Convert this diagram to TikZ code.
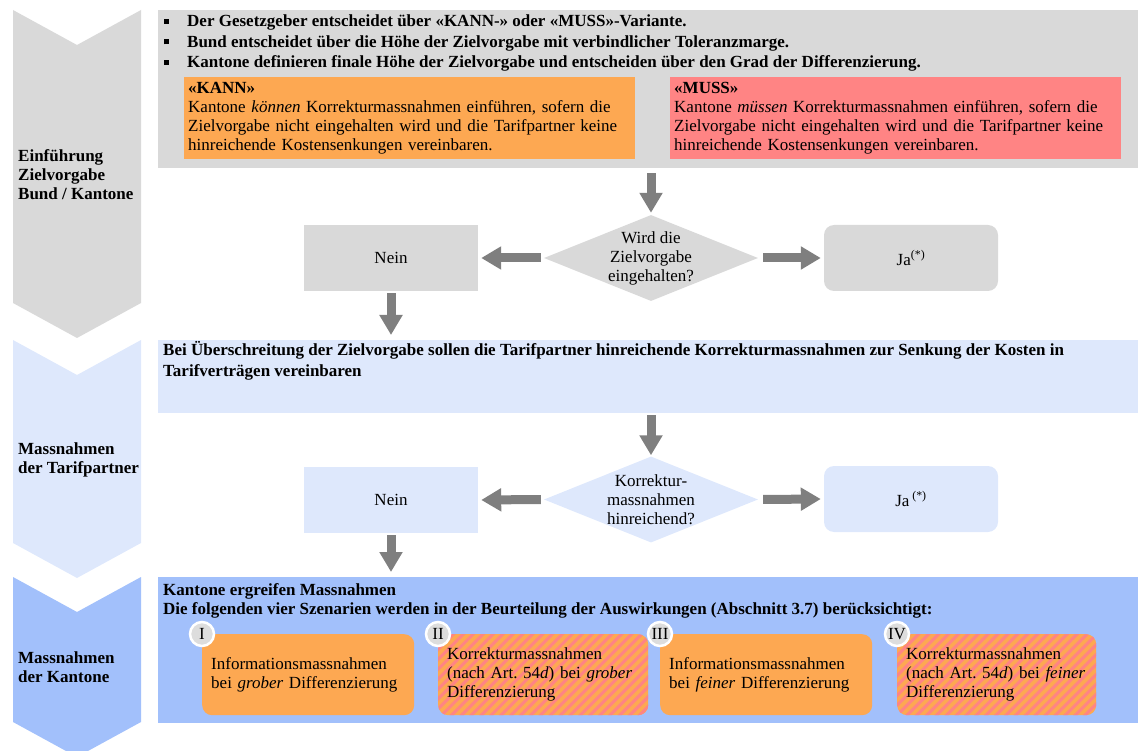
\documentclass[tikz,border=0pt]{standalone}
\usepackage{fontspec}
\setmainfont{Liberation Serif}
\usetikzlibrary{arrows.meta,shapes.geometric,patterns.meta}
\definecolor{grau}{HTML}{D9D9D9}
\definecolor{hellblau}{HTML}{DEE8FC}
\definecolor{blau}{HTML}{A2C0FB}
\definecolor{kannfarbe}{HTML}{FDA852}
\definecolor{mussfarbe}{HTML}{FF8484}
\definecolor{pfeilgrau}{HTML}{7F7F7F}
\definecolor{kreisgrau}{HTML}{DDDDDD}
\newcommand{\grundschrift}{\fontsize{17}{19}\selectfont}

\begin{document}
\begin{tikzpicture}[x=1pt, y=-1pt, font=\grundschrift,
    fett/.style={font=\grundschrift\bfseries, align=left, inner sep=0pt},
    flaeche/.style={anchor=north west, minimum width=980pt, inner sep=0pt},
    variante/.style={anchor=north west, minimum width=451pt, minimum height=82pt, text width=443pt, inner xsep=4pt, inner ysep=0pt, align=left},
    frage/.style={diamond, minimum width=214pt, minimum height=86pt, inner sep=0pt},
    antwort/.style={minimum width=174pt, minimum height=66pt, inner sep=0pt},
    pfeil/.style={draw=pfeilgrau, line width=9pt, -{Triangle[length=20pt 0, width=22pt 0]}},
    szenario/.style={anchor=north west, fill=kannfarbe, rounded corners=10pt, minimum height=81pt, inner xsep=9pt, inner ysep=0pt, align=left},
    streifen/.style={postaction={pattern={Lines[angle=45, distance=7pt, line width=3pt]}, pattern color=mussfarbe}},
    nummer/.style={circle, fill=kreisgrau, draw=white, line width=2.5pt, minimum size=24pt, inner sep=0pt}]
  \useasboundingbox (0,0) rectangle (1138,751);
  \fill[grau] (13,10) -- (77,45) -- (141,10) -- (141,303) -- (77,338) -- (13,303) -- cycle;
  \fill[hellblau] (13,340) -- (77,375) -- (141,340) -- (141,543) -- (77,578) -- (13,543) -- cycle;
  \fill[blau] (13,577) -- (77,612) -- (141,577) -- (141,722) -- (77,757) -- (13,722) -- cycle;
  \node[fett, anchor=west] (phase1) at (18,175) {Einführung\\Zielvorgabe\\Bund / Kantone};
  \node[fett, anchor=west] (phase2) at (18,460) {Massnahmen\\der Tarifpartner};
  \node[fett, anchor=west] (phase3) at (18,667) {Massnahmen\\der Kantone};

  \node[flaeche, fill=grau, minimum height=158pt] (ziel) at (158,10) {};
  \node[fett, anchor=north west, font=\fontsize{17}{20.5}\selectfont\bfseries] (punkte) at (164,15)
    {\rule[3pt]{5pt}{5pt}\hspace{18pt}Der Gesetzgeber entscheidet über «KANN-» oder «MUSS»-Variante.\\
     \rule[3pt]{5pt}{5pt}\hspace{18pt}Bund entscheidet über die Höhe der Zielvorgabe mit verbindlicher Toleranzmarge.\\
     \rule[3pt]{5pt}{5pt}\hspace{18pt}Kantone definieren finale Höhe der Zielvorgabe und entscheiden über den Grad der Differenzierung.};
  \node[variante, fill=kannfarbe] (kann) at (184,77)
    {\textbf{«KANN»}\\Kantone \textit{können} Korrekturmassnahmen einführen, sofern die\\Zielvorgabe nicht eingehalten wird und die Tarifpartner keine\\hinreichende Kostensenkungen vereinbaren.};
  \node[variante, fill=mussfarbe] (muss) at (670,77)
    {\textbf{«MUSS»}\\Kantone \textit{müssen} Korrekturmassnahmen einführen, sofern die\\Zielvorgabe nicht eingehalten wird und die Tarifpartner keine\\hinreichende Kostensenkungen vereinbaren.};

  \node[frage, fill=grau] (frage1) at (651,258) {};
  \node[align=center, inner sep=0pt] (text1) at (frage1) {Wird die\\Zielvorgabe\\eingehalten?};
  \node[antwort, fill=grau] (nein1) at (391,258) {Nein};
  \node[antwort, fill=grau, rounded corners=10pt] (ja1) at (911,258) {Ja\textsuperscript{(*)}};

  \node[flaeche, fill=hellblau, minimum height=73pt] (tarif) at (158,340) {};
  \node[fett, anchor=west, font=\fontsize{17}{21}\selectfont\bfseries] (tariftext) at (163,360.5)
    {Bei Überschreitung der Zielvorgabe sollen die Tarifpartner hinreichende Korrekturmassnahmen zur Senkung der Kosten in\\Tarifverträgen vereinbaren};

  \node[frage, fill=hellblau] (frage2) at (651,499.5) {};
  \node[align=center, inner sep=0pt] (text2) at (frage2) {Korrektur-\\massnahmen\\hinreichend?};
  \node[antwort, fill=hellblau] (nein2) at (391,500) {Nein};
  \node[antwort, fill=hellblau, rounded corners=10pt] (ja2) at (911,499) {Ja\,\textsuperscript{(*)}};

  \node[flaeche, fill=blau, minimum height=146pt] (kanton) at (158,577) {};
  \node[fett, anchor=west] (kantontext) at (163,600.5)
    {Kantone ergreifen Massnahmen\\Die folgenden vier Szenarien werden in der Beurteilung der Auswirkungen (Abschnitt 3.7) berücksichtigt:};
  \node[szenario, text width=194pt] (s1) at (202,634) {Informationsmassnahmen\\bei \textit{grober} Differenzierung};
  \node[szenario, streifen, text width=192pt] (s2) at (438,634) {Korrekturmassnahmen\\(nach Art.\ 54\textit{d}) bei \textit{grober}\\Differenzierung};
  \node[szenario, text width=194pt] (s3) at (660,634) {Informationsmassnahmen\\bei \textit{feiner} Differenzierung};
  \node[szenario, streifen, text width=181pt] (s4) at (897,634) {Korrekturmassnahmen\\(nach Art.\ 54\textit{d}) bei \textit{feiner}\\Differenzierung};
  \foreach \s/\z in {s1/I, s2/II, s3/III, s4/IV}
    \node[nummer] (nr\s) at (\s.north west) {\z};

  \draw[pfeil, shorten <=5pt, shorten >=2pt] (ziel.south -| frage1.north) -- (frage1.north);
  \draw[pfeil, shorten <=3pt, shorten >=3pt] (frage1.west) -- (nein1.east);
  \draw[pfeil, shorten <=5pt, shorten >=3pt] (frage1.east) -- (ja1.west);
  \draw[pfeil, shorten <=2pt, shorten >=5pt] (nein1.south) -- (nein1.south |- tarif.north);
  \draw[pfeil, shorten <=2pt, shorten >=1pt] (tarif.south -| frage2.north) -- (frage2.north);
  \draw[pfeil, shorten <=3pt, shorten >=3pt] (frage2.west) -- (nein2.east);
  \draw[pfeil, shorten <=5pt, shorten >=3pt] (frage2.east) -- (ja2.west);
  \draw[pfeil, shorten <=2pt, shorten >=5pt] (nein2.south) -- (nein2.south |- kanton.north);
\end{tikzpicture}
\end{document}
